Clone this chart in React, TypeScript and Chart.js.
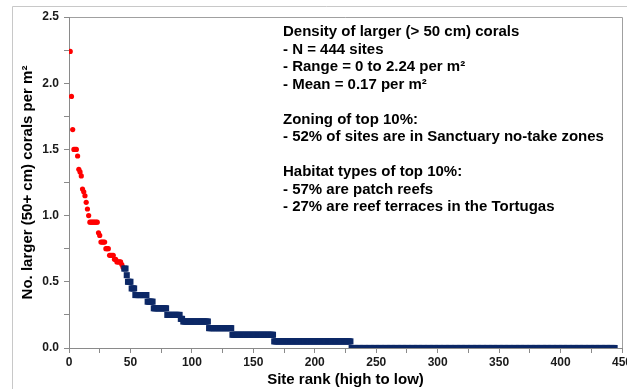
import React, { useEffect, useRef } from 'react';
import { Chart, registerables } from 'chart.js';
Chart.register(...registerables);

// Top 10% of sites (red): density levels and how many sites share each level
const redLevels = [2.24, 1.9, 1.65, 1.5, 1.45, 1.35, 1.33, 1.3, 1.2, 1.18, 1.15, 1.1, 1.05, 1.0, 0.95, 0.87, 0.85, 0.8, 0.75, 0.7, 0.67, 0.65, 0.63, 0.61];
const redCounts = [1, 1, 1, 3, 1, 1, 1, 1, 1, 1, 1, 1, 1, 1, 7, 1, 1, 4, 3, 4, 2, 4, 1, 1];
// Remaining sites (navy)
const blueLevels = [0.6, 0.55, 0.5, 0.45, 0.4, 0.35, 0.3, 0.25, 0.22, 0.2, 0.15, 0.1, 0.05, 0.0];
const blueCounts = [2, 1, 3, 3, 10, 5, 11, 11, 2, 21, 19, 34, 63, 215];

const xTitle = 'Site rank (high to low)';
const yTitle = 'No. larger (50+ cm) corals per m²';
const noteLines = [
  'Density of larger (> 50 cm) corals',
  '- N = 444 sites',
  '- Range = 0 to 2.24 per m²',
  '- Mean = 0.17 per m²',
  '',
  'Zoning of top 10%:',
  '- 52% of sites are in Sanctuary no-take zones',
  '',
  'Habitat types of top 10%:',
  '- 57% are patch reefs',
  '- 27% are reef terraces in the Tortugas',
];

function expand(levels: number[], counts: number[], start: number) {
  const pts: { x: number; y: number }[] = [];
  let r = start;
  levels.forEach((v, i) => {
    for (let k = 0; k < counts[i]; k++) {
      pts.push({ x: r, y: v });
      r++;
    }
  });
  return pts;
}

const FONT = "'Liberation Sans', Arial, sans-serif";

export default function App() {
  const ref = useRef<HTMLCanvasElement>(null);
  useEffect(() => {
    const redPts = expand(redLevels, redCounts, 1);
    const bluePts = expand(blueLevels, blueCounts, redPts.length + 1);

    const framePlugin = {
      id: 'frame',
      beforeDraw(chart: any) {
        const { ctx, chartArea: a } = chart;
        ctx.save();
        ctx.fillStyle = '#ffffff';
        ctx.fillRect(0, 0, chart.width, chart.height);
        ctx.strokeStyle = '#c8c8c8';
        ctx.lineWidth = 1;
        ctx.beginPath();
        ctx.moveTo(12.5, chart.height);
        ctx.lineTo(12.5, 6.5);
        ctx.lineTo(chart.width, 6.5);
        ctx.stroke();
        ctx.strokeStyle = '#a0a0a0';
        ctx.beginPath();
        ctx.moveTo(a.left, a.top + 0.5);
        ctx.lineTo(a.right + 0.5, a.top + 0.5);
        ctx.lineTo(a.right + 0.5, a.bottom);
        ctx.stroke();
        ctx.restore();
      },
      afterDraw(chart: any) {
        const { ctx } = chart;
        ctx.save();
        ctx.fillStyle = '#000000';
        ctx.font = `bold 15px ${FONT}`;
        ctx.textBaseline = 'middle';
        ctx.textAlign = 'left';
        noteLines.forEach((t, i) => {
          if (t) ctx.fillText(t, 283, 32 + i * 17.5);
        });
        ctx.restore();
      },
    };

    const chart = new Chart(ref.current!, {
      type: 'scatter',
      data: {
        datasets: [
          {
            data: bluePts,
            pointStyle: 'rect',
            pointRadius: 4.3,
            pointBackgroundColor: '#0c2866',
            pointBorderWidth: 0,
            borderColor: '#0c2866',
          },
          {
            data: redPts,
            pointStyle: 'circle',
            pointRadius: 2.6,
            pointBackgroundColor: '#ff0000',
            pointBorderWidth: 0,
            borderColor: '#ff0000',
          },
        ],
      },
      options: {
        animation: false,
        responsive: false,
        layout: { padding: { left: 19, top: 17, right: 18, bottom: 0 } },
        plugins: { legend: { display: false }, tooltip: { enabled: false } },
        scales: {
          x: {
            type: 'linear',
            min: 0,
            max: 450,
            afterFit: (s: any) => { s.height = 41; },
            ticks: {
              stepSize: 25,
              autoSkip: false,
              maxRotation: 0,
              padding: 2,
              color: '#1a1a1a',
              font: { family: FONT, size: 12, weight: 'bold' },
              callback: (v: any) => (Number(v) % 50 === 0 ? String(v) : ''),
            },
            grid: { drawOnChartArea: false, drawTicks: true, tickLength: 5, color: '#8a8a8a' },
            border: { display: true, color: '#8a8a8a', width: 1 },
            title: {
              display: true,
              text: xTitle,
              color: '#000000',
              font: { family: FONT, size: 15, weight: 'bold' },
              padding: { top: 0, bottom: 0 },
            },
          },
          y: {
            type: 'linear',
            min: 0,
            max: 2.5,
            afterFit: (s: any) => { s.width = 50; },
            ticks: {
              stepSize: 0.25,
              autoSkip: false,
              padding: 5,
              color: '#1a1a1a',
              font: { family: FONT, size: 12, weight: 'bold' },
              callback: (v: any) => {
                const n = Number(v);
                return Math.abs(n * 2 - Math.round(n * 2)) < 1e-6 ? n.toFixed(1) : '';
              },
            },
            grid: { drawOnChartArea: false, drawTicks: true, tickLength: 5, color: '#8a8a8a' },
            border: { display: true, color: '#8a8a8a', width: 1 },
            title: {
              display: true,
              text: yTitle,
              color: '#000000',
              font: { family: FONT, size: 15, weight: 'bold' },
              padding: { top: 0, bottom: 0 },
            },
          },
        },
      },
      plugins: [framePlugin],
    } as any);
    return () => chart.destroy();
  }, []);

  return (
    <div style={{ position: 'fixed', left: 0, top: 0, width: 627, height: 389, overflow: 'hidden', background: '#fff' }}>
      <canvas ref={ref} width={640} height={389} style={{ display: 'block', width: 640, height: 389 }} />
    </div>
  );
}
